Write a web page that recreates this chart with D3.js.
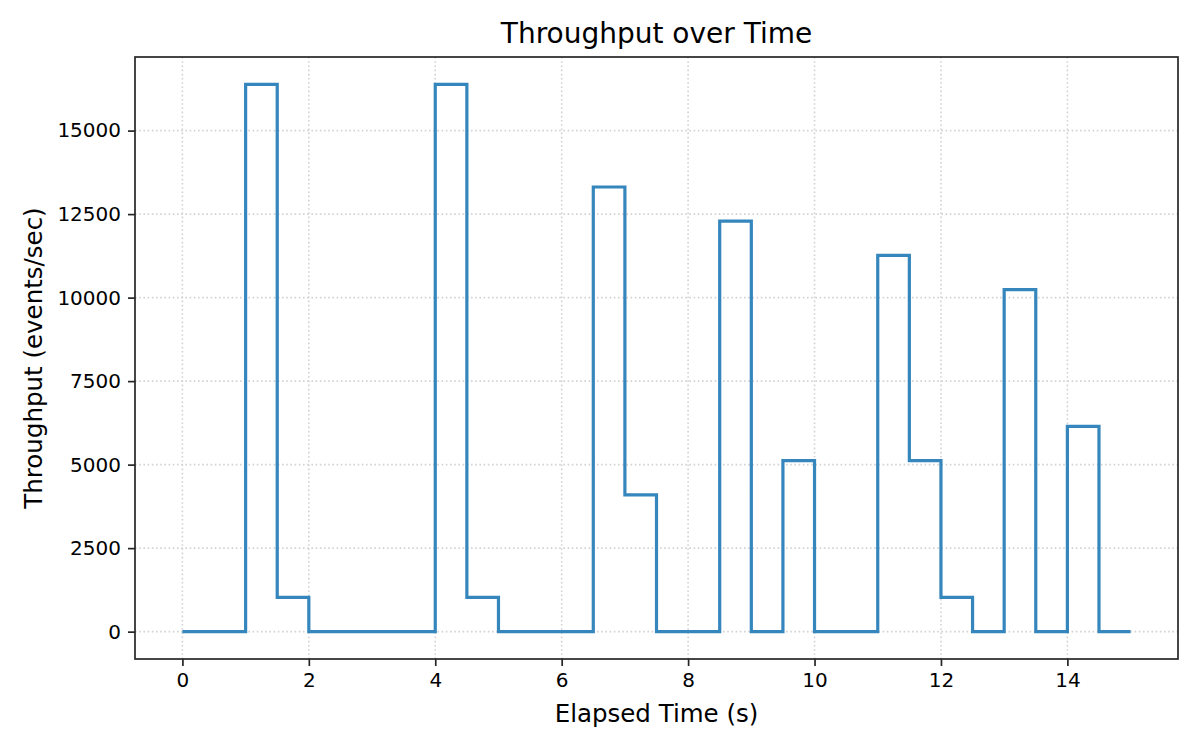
<!DOCTYPE html>
<html>
<head>
<meta charset="utf-8">
<script src="https://cdn.jsdelivr.net/npm/d3@7"></script>
<style>
  body { margin: 0; background: #fff; }
  svg { font-family: "DejaVu Sans", sans-serif; }
</style>
</head>
<body>
<svg id="chart" width="1200" height="750"></svg>
<script>
// sample times (s), one every half second
const times = [0, 0.5, 1, 1.5, 2, 2.5, 3, 3.5, 4, 4.5, 5, 5.5, 6, 6.5, 7, 7.5,
  8, 8.5, 9, 9.5, 10, 10.5, 11, 11.5, 12, 12.5, 13, 13.5, 14, 14.5, 15];
// throughput in events/sec for each sample
const throughput = [0, 0, 16384, 1024, 0, 0, 0, 0, 16384, 1024, 0, 0, 0, 13312, 4096, 0,
  0, 12288, 0, 5120, 0, 0, 11264, 5120, 1024, 0, 10240, 0, 6144, 0, 0];
const xTicks = [0, 2, 4, 6, 8, 10, 12, 14];
const yTicks = [0, 2500, 5000, 7500, 10000, 12500, 15000];

const W = 1200, H = 750;
const margin = { left: 135, right: 22, top: 57, bottom: 91 };
const iw = W - margin.left - margin.right;
const ih = H - margin.top - margin.bottom;

const points = times.map((t, i) => ({ t: t, v: throughput[i] }));

// matplotlib style 5% margins
const tMin = d3.min(times), tMax = d3.max(times);
const tPad = (tMax - tMin) * 0.05;
const vMax = d3.max(throughput), vMin = d3.min(throughput);
const vPad = (vMax - vMin) * 0.05;

const x = d3.scaleLinear().domain([tMin - tPad, tMax + tPad]).range([0, iw]);
const y = d3.scaleLinear().domain([vMin - vPad, vMax + vPad]).range([ih, 0]);

const svg = d3.select("#chart");
const g = svg.append("g").attr("transform", `translate(${margin.left},${margin.top})`);

// grid
g.append("g").selectAll("line").data(xTicks).join("line")
  .attr("x1", d => x(d)).attr("x2", d => x(d))
  .attr("y1", 0).attr("y2", ih)
  .attr("stroke", "#d2d2d2").attr("stroke-width", 1.6)
  .attr("stroke-dasharray", "1.6,2.6");
g.append("g").selectAll("line").data(yTicks).join("line")
  .attr("y1", d => y(d)).attr("y2", d => y(d))
  .attr("x1", 0).attr("x2", iw)
  .attr("stroke", "#d2d2d2").attr("stroke-width", 1.6)
  .attr("stroke-dasharray", "1.6,2.6");

// step line
const line = d3.line()
  .x(d => x(d.t))
  .y(d => y(d.v))
  .curve(d3.curveStepAfter);

g.append("path")
  .datum(points)
  .attr("fill", "none")
  .attr("stroke", "#3586bd")
  .attr("stroke-width", 3.2)
  .attr("stroke-linejoin", "miter")
  .attr("stroke-linecap", "butt")
  .attr("d", line);

// axes
const xAxis = g.append("g")
  .attr("transform", `translate(0,${ih})`)
  .call(d3.axisBottom(x).tickValues(xTicks).tickSize(7).tickPadding(7).tickFormat(d3.format("d")));
const yAxis = g.append("g")
  .call(d3.axisLeft(y).tickValues(yTicks).tickSize(7).tickPadding(7).tickFormat(d3.format("d")));

[xAxis, yAxis].forEach(a => {
  a.select(".domain").remove();
  a.selectAll(".tick line").attr("stroke", "#262626").attr("stroke-width", 1.7);
  a.selectAll(".tick text").attr("fill", "#000").style("font-size", "20px")
    .style("font-family", "'DejaVu Sans', sans-serif");
});

// frame
g.append("rect")
  .attr("width", iw).attr("height", ih)
  .attr("fill", "none").attr("stroke", "#262626").attr("stroke-width", 1.7);

// labels
svg.append("text")
  .attr("x", margin.left + iw / 2).attr("y", 43)
  .attr("text-anchor", "middle")
  .style("font-size", "28px")
  .text("Throughput over Time");

svg.append("text")
  .attr("x", margin.left + iw / 2).attr("y", 722)
  .attr("text-anchor", "middle")
  .style("font-size", "24.5px")
  .text("Elapsed Time (s)");

svg.append("text")
  .attr("transform", `translate(42,${margin.top + ih / 2}) rotate(-90)`)
  .attr("text-anchor", "middle")
  .style("font-size", "24.5px")
  .text("Throughput (events/sec)");
</script>
</body>
</html>
